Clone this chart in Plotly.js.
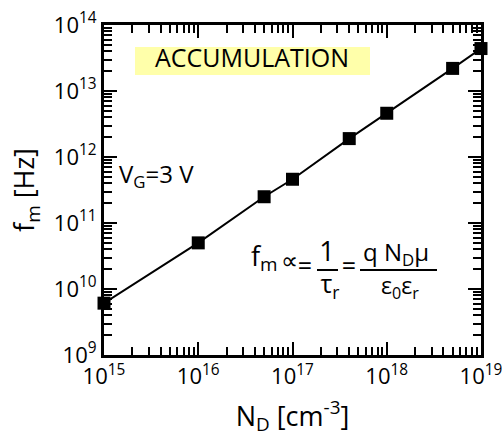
<!DOCTYPE html>
<html>
<head>
<meta charset="utf-8">
<script src="https://cdn.plot.ly/plotly-3.0.1.min.js"></script>
<style>html,body{margin:0;padding:0;background:#fff;}#chart{width:502px;height:439px;}</style>
</head>
<body>
<div id="chart"></div>
<script>
// Data
var dopingND = [1e15, 1e16, 5e16, 1e17, 4e17, 1e18, 5e18, 1e19];
var freqFm   = [6.1e9, 5.0e10, 2.5e11, 4.6e11, 1.9e12, 4.6e12, 2.2e13, 4.4e13];

var xTickVals = [1e15, 1e16, 1e17, 1e18, 1e19];
var xTickText = ['10<sup>15</sup>', '10<sup>16</sup>', '10<sup>17</sup>', '10<sup>18</sup>', '10<sup>19</sup>'];
var yTickVals = [1e9, 1e10, 1e11, 1e12, 1e13, 1e14];
var yTickText = ['10<sup>9</sup>', '10<sup>10</sup>', '10<sup>11</sup>', '10<sup>12</sup>', '10<sup>13</sup>', '10<sup>14</sup>'];

// minor tick positions (2..9 within each decade)
function minorTicks(decades) {
  var out = [];
  for (var i = 0; i < decades.length - 1; i++) {
    for (var m = 2; m <= 9; m++) out.push(m * decades[i]);
  }
  return out;
}
var xMinor = minorTicks(xTickVals);
var yMinor = minorTicks(yTickVals);

var L = 104, R = 21, T = 25, B = 84, W = 502, H = 439;
var PW = W - L - R, PH = H - T - B;
var XR = [15, 19], YR = [9, 14];
// pixel -> paper / data helpers for the text labels
function px(x) { return (x - L) / PW; }
function py(y) { return (H - B - y) / PH; }
function dx(x) { return Math.pow(10, XR[0] + px(x) * (XR[1] - XR[0])); }
function dy(y) { return Math.pow(10, YR[0] + py(y) * (YR[1] - YR[0])); }

// text labels: [text, xpx, ypx, size, position]
var labels = [
  ['ACCUMULATION', 252, 61, 25, 'middle center'],
  ['V<sub>G</sub>=3 V', 119, 177, 24, 'middle right'],
  ['f<sub>m</sub>', 251, 259, 27, 'middle right'],
  ['∝', 289, 263, 24, 'middle center'],
  ['=', 305, 269, 25, 'middle center'],
  ['1', 327, 254, 27, 'middle center'],
  ['τ<sub>r</sub>', 330, 287, 25, 'middle center'],
  ['=', 349, 269, 25, 'middle center'],
  ['q N<sub>D</sub>μ', 396, 255, 24, 'middle center'],
  ['ε<sub>0</sub>ε<sub>r</sub>', 400, 288, 23, 'middle center']
];

var trace = {
  x: dopingND, y: freqFm, type: 'scatter', mode: 'lines+markers',
  line: {color: '#000', width: 2},
  marker: {symbol: 'square', size: 13, color: '#000'},
  cliponaxis: false, showlegend: false
};

var textTrace = {
  type: 'scatter', mode: 'text', showlegend: false, cliponaxis: false,
  x: labels.map(function (l) { return dx(l[1]); }),
  y: labels.map(function (l) { return dy(l[2]); }),
  text: labels.map(function (l) { return l[0]; }),
  textposition: labels.map(function (l) { return l[4]; }),
  textfont: {color: '#000', size: labels.map(function (l) { return l[3]; })}
};

function axis(range, vals, text, minorVals, title, standoff) {
  return {
    type: 'log', range: range, showgrid: false, zeroline: false,
    showline: true, linecolor: '#000', linewidth: 3, mirror: 'allticks',
    ticks: 'inside', ticklen: 13, tickwidth: 2, tickcolor: '#000',
    tickmode: 'array', tickvals: vals, ticktext: text, ticklabeloverflow: 'allow',
    tickfont: {size: 22, color: '#000'},
    minor: {tickmode: 'array', tickvals: minorVals, ticks: 'inside', ticklen: 8, tickwidth: 2, tickcolor: '#000', showgrid: false},
    title: {text: title, font: {size: 27, color: '#000'}, standoff: standoff}
  };
}

var layout = {
  width: W, height: H,
  margin: {l: L, r: R, t: T, b: B},
  xaxis: axis([XR[0] - 0.0001, XR[1] + 0.0001], xTickVals, xTickText, xMinor, 'N<sub>D</sub> [cm<sup>-3</sup>]', 18),
  yaxis: axis([YR[0] - 0.0001, YR[1] + 0.0001], yTickVals, yTickText, yMinor, 'f<sub>m</sub> [Hz]', 12),
  shapes: [
    {type: 'rect', xref: 'paper', yref: 'paper', x0: px(135), x1: px(370), y0: py(75), y1: py(47),
     fillcolor: '#ffffaa', line: {width: 0}, layer: 'below'},
    {type: 'line', xref: 'paper', yref: 'paper', x0: px(317), x1: px(338), y0: py(270), y1: py(270),
     line: {color: '#000', width: 2}},
    {type: 'line', xref: 'paper', yref: 'paper', x0: px(360), x1: px(437), y0: py(270), y1: py(270),
     line: {color: '#000', width: 2}}
  ]
};

Plotly.newPlot('chart', [trace, textTrace], layout, {staticPlot: true});
</script>
</body>
</html>
